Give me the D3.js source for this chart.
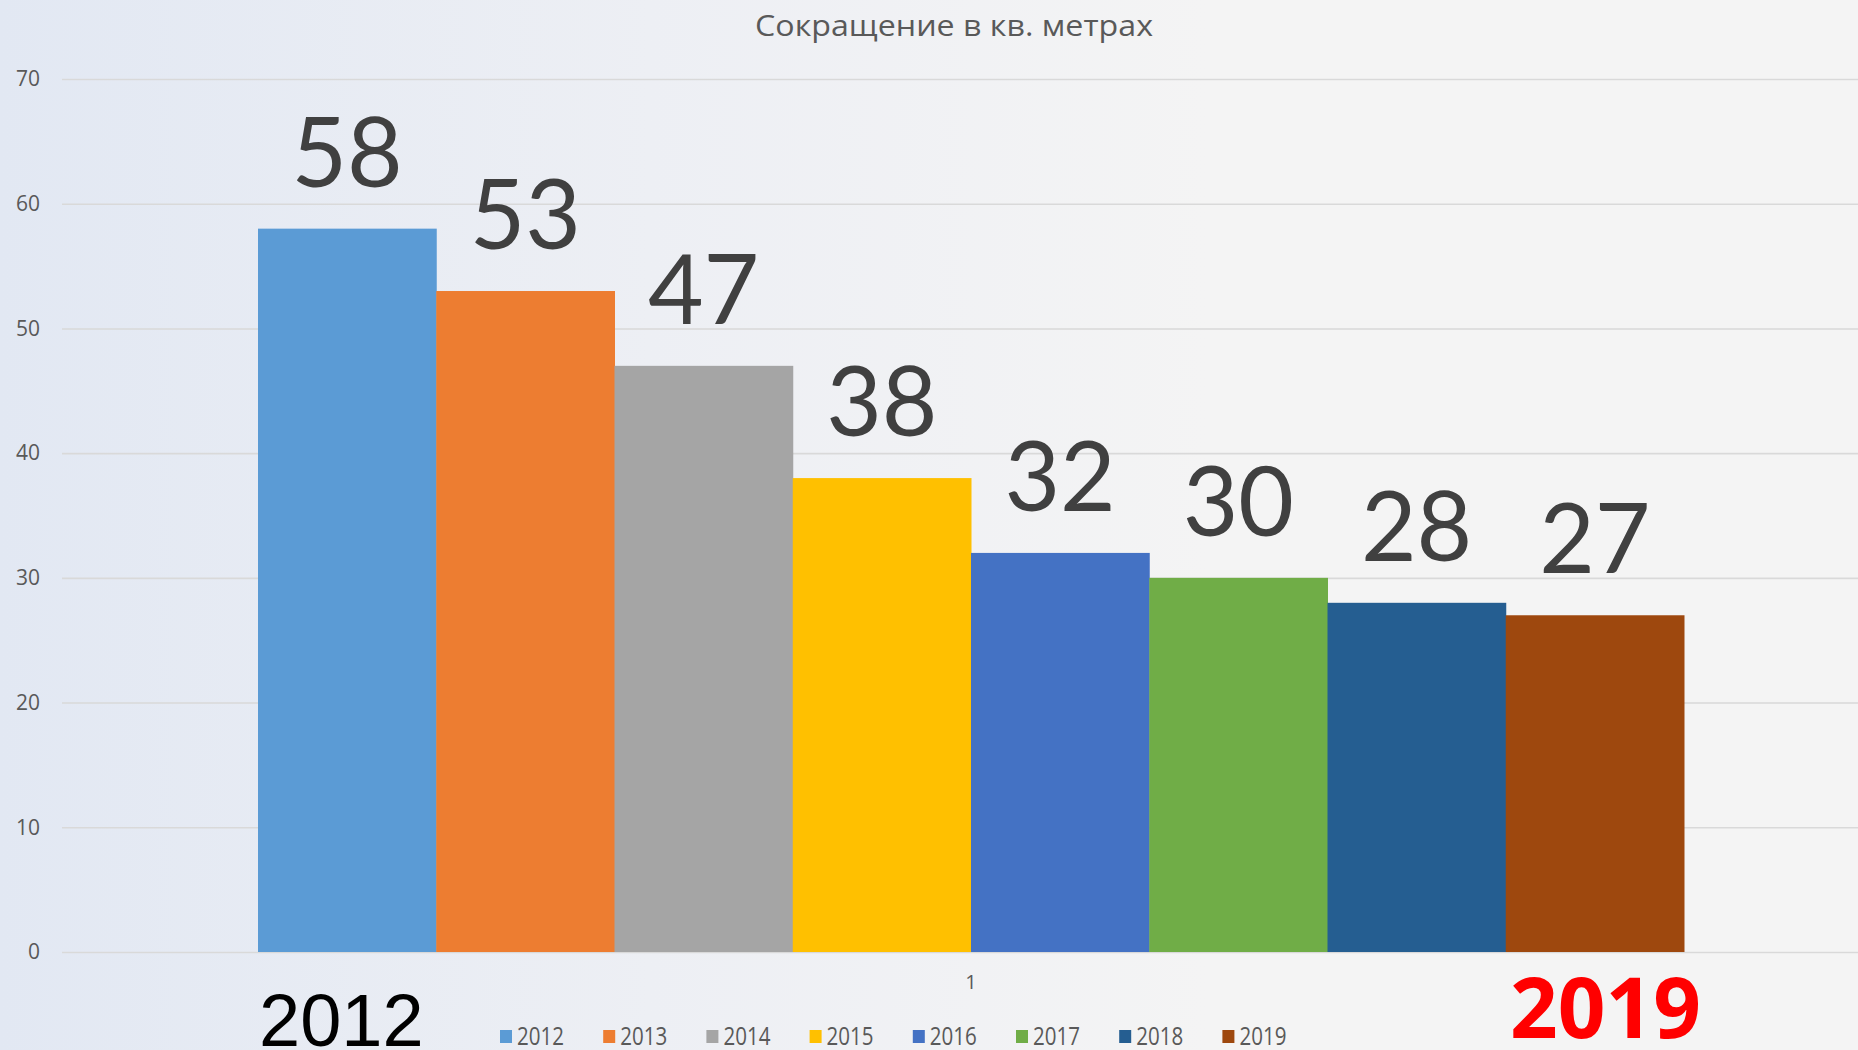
<!DOCTYPE html>
<html lang="ru">
<head>
<meta charset="utf-8">
<title>Сокращение в кв. метрах</title>
<script src="https://cdn.jsdelivr.net/npm/d3@7"></script>
<style>
  body { margin: 0; }
  svg { display: block; }
  .tick text { fill: #595959; font-family: "Open Sans", sans-serif; }
</style>
</head>
<body>
<div id="chart"></div>
<script>
// data
const categories = ["1"];
const years = ["2012", "2013", "2014", "2015", "2016", "2017", "2018", "2019"];
const values = [58, 53, 47, 38, 32, 30, 28, 27];
const colors = ["#5b9bd5", "#ed7d31", "#a5a5a5", "#ffc000", "#4472c4", "#70ad47", "#255e91", "#9e480e"];
const yTicks = [0, 10, 20, 30, 40, 50, 60, 70];

const W = 1858, H = 1050;

const svg = d3.select("#chart").append("svg")
  .attr("width", W)
  .attr("height", H);

// background gradient, bluish on the left fading to grey
const grad = svg.append("defs").append("linearGradient")
  .attr("id", "bg")
  .attr("x1", "0").attr("x2", "1").attr("y1", "0").attr("y2", "0");
grad.append("stop").attr("offset", "0").attr("stop-color", "#e2e8f3");
grad.append("stop").attr("offset", "0.35").attr("stop-color", "#edeff4");
grad.append("stop").attr("offset", "0.65").attr("stop-color", "#f4f4f4");
grad.append("stop").attr("offset", "1").attr("stop-color", "#f4f4f4");

svg.append("rect")
  .attr("width", W).attr("height", H)
  .attr("fill", "url(#bg)");

const y = d3.scaleLinear().domain([0, 70]).range([952, 79]);
const x0 = d3.scaleBand().domain(categories).range([258, 1684]);
const x1 = d3.scaleBand().domain(years).range([0, x0.bandwidth()]);

const gridLeft = 62;

// y axis + gridlines
const yAxis = svg.append("g")
  .attr("transform", "translate(" + gridLeft + ",0)")
  .call(d3.axisLeft(y).tickValues(yTicks).tickSize(-(W - gridLeft)).tickPadding(22));
yAxis.select(".domain").remove();
yAxis.selectAll(".tick line").attr("stroke", "#d9d9d9").attr("stroke-width", 1.6);
yAxis.selectAll(".tick text").attr("font-size", 21);

// bars
const group = svg.append("g");
group.selectAll("rect")
  .data(years)
  .join("rect")
    .attr("x", (d) => x0("1") + x1(d))
    .attr("y", (d, i) => y(values[i]))
    .attr("width", x1.bandwidth() + 0.5)
    .attr("height", (d, i) => y(0) - y(values[i]))
    .attr("fill", (d, i) => colors[i]);

// big value labels
group.selectAll("text.val")
  .data(years)
  .join("text")
    .attr("class", "val")
    .attr("x", (d) => x0("1") + x1(d) + x1.bandwidth() / 2)
    .attr("y", (d, i) => y(values[i]) - 42)
    .attr("text-anchor", "middle")
    .attr("font-family", "Lato, sans-serif")
    .attr("font-size", 96)
    .attr("fill", "#404040")
    .text((d, i) => values[i]);

// category axis
const xAxis = svg.append("g")
  .attr("transform", "translate(0," + y(0) + ")")
  .call(d3.axisBottom(x0).tickSize(0).tickPadding(23));
xAxis.select(".domain").remove();
xAxis.selectAll(".tick text").attr("font-size", 20);

// title
svg.append("text")
  .attr("x", 954)
  .attr("y", 36)
  .attr("text-anchor", "middle")
  .attr("font-family", "Open Sans, sans-serif")
  .attr("font-size", 30)
  .attr("fill", "#595959")
  .attr("textLength", 398)
  .attr("lengthAdjust", "spacingAndGlyphs")
  .text("Сокращение в кв. метрах");

// legend
const legend = svg.append("g").attr("transform", "translate(500,0)");
const item = legend.selectAll("g")
  .data(years)
  .join("g")
    .attr("transform", (d, i) => "translate(" + (i * 103.2) + ",0)");
item.append("rect")
  .attr("x", 0).attr("y", 1030)
  .attr("width", 12).attr("height", 13)
  .attr("fill", (d, i) => colors[i]);
item.append("text")
  .attr("x", 17).attr("y", 1045)
  .attr("font-family", "Open Sans, sans-serif")
  .attr("font-size", 25)
  .attr("fill", "#595959")
  .attr("textLength", 47)
  .attr("lengthAdjust", "spacingAndGlyphs")
  .text((d) => d);

// first and last year, drawn large under the chart
svg.append("text")
  .attr("x", 259)
  .attr("y", 1046)
  .attr("font-family", "Liberation Sans, Arial, sans-serif")
  .attr("font-size", 74)
  .attr("fill", "#000000")
  .text(years[0]);

svg.append("text")
  .attr("x", 1510)
  .attr("y", 1038)
  .attr("font-family", "Open Sans, sans-serif")
  .attr("font-weight", "bold")
  .attr("font-size", 84)
  .attr("fill", "#ff0000")
  .attr("textLength", 191)
  .attr("lengthAdjust", "spacingAndGlyphs")
  .text(years[years.length - 1]);
</script>
</body>
</html>
